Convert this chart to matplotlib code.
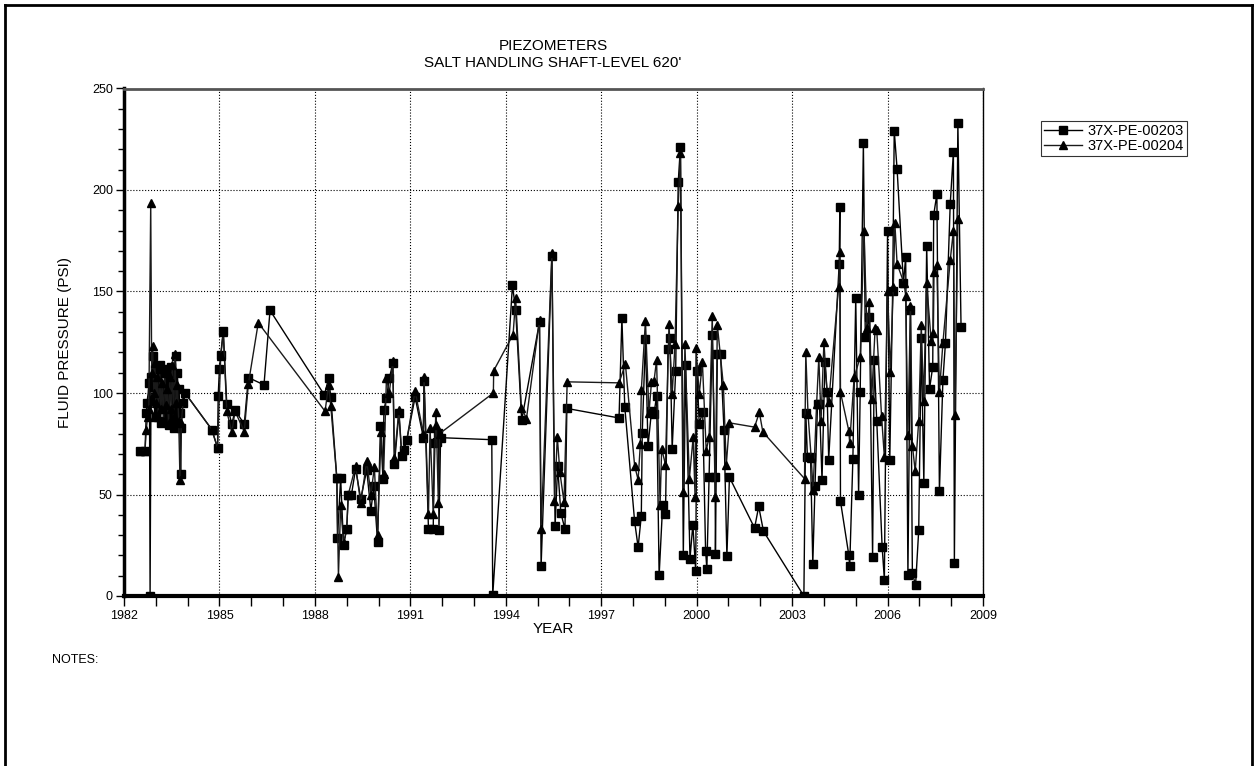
#!/usr/bin/env python3

import matplotlib
matplotlib.use("Agg")
from matplotlib import pyplot as plt
from matplotlib.lines import Line2D
from matplotlib.ticker import MultipleLocator

plt.rcParams['font.family'] = ['Liberation Sans', 'DejaVu Sans']

year_ticks = [1982, 1985, 1988, 1991, 1994, 1997, 2000, 2003, 2006, 2009]

# 37X-PE-00203 (squares)
yr_203 = [1982.50, 1982.66, 1982.70, 1982.72, 1982.80, 1982.82, 1982.85, 1982.88, 1982.92, 1982.95,
          1982.98, 1983.02, 1983.05, 1983.08, 1983.12, 1983.15, 1983.18, 1983.22, 1983.25, 1983.28,
          1983.32, 1983.35, 1983.38, 1983.42, 1983.45, 1983.48, 1983.52, 1983.55, 1983.58, 1983.62,
          1983.65, 1983.68, 1983.70, 1983.72, 1983.75, 1983.78, 1983.80, 1983.85, 1983.92,
          1984.76, 1984.94, 1984.96, 1985.00, 1985.04, 1985.12, 1985.23, 1985.39, 1985.49, 1985.78,
          1985.91, 1986.40, 1986.59,
          1988.30, 1988.43, 1988.50, 1988.69, 1988.71, 1988.81, 1988.90, 1989.00, 1989.05, 1989.15,
          1989.28, 1989.44, 1989.63, 1989.76, 1989.85, 1989.97, 1990.06, 1990.14, 1990.17, 1990.25,
          1990.34, 1990.45, 1990.50, 1990.64, 1990.73, 1990.80, 1990.89, 1991.15, 1991.41, 1991.43,
          1991.57, 1991.72, 1991.75, 1991.85, 1991.88, 1991.90, 1991.95,
          1993.56, 1993.59, 1994.21, 1994.31, 1994.50, 1995.06, 1995.11, 1995.45, 1995.55, 1995.63,
          1995.73, 1995.86, 1995.92,
          1997.56, 1997.65, 1997.74, 1998.05, 1998.16, 1998.26, 1998.29, 1998.39, 1998.47, 1998.58,
          1998.66, 1998.74, 1998.82, 1998.93, 1999.02, 1999.10, 1999.16, 1999.23, 1999.34, 1999.42,
          1999.49, 1999.58, 1999.65, 1999.79, 1999.88, 1999.97, 2000.01, 2000.08, 2000.19, 2000.28,
          2000.32, 2000.39, 2000.49, 2000.58, 2000.59, 2000.65, 2000.75, 2000.86, 2000.95, 2001.03,
          2001.82, 2001.95, 2002.10,
          2003.37, 2003.43, 2003.48, 2003.58, 2003.65, 2003.72, 2003.80, 2003.86, 2003.94, 2004.03,
          2004.10, 2004.15, 2004.48, 2004.50, 2004.52, 2004.78, 2004.81, 2004.91, 2005.00, 2005.09,
          2005.14, 2005.24, 2005.30, 2005.43, 2005.53, 2005.58, 2005.66, 2005.83, 2005.90, 2006.00,
          2006.07, 2006.16, 2006.21, 2006.30, 2006.50, 2006.57, 2006.64, 2006.72, 2006.78, 2006.88,
          2006.98, 2007.06, 2007.14, 2007.23, 2007.32, 2007.42, 2007.45, 2007.55, 2007.63, 2007.74,
          2007.82, 2007.97, 2008.07, 2008.10, 2008.21, 2008.31]
psi_203 = [71.5, 71.5, 90, 95, 105, 0, 108, 103, 118, 96,
           112, 88, 106, 92, 114, 85, 110, 95, 104, 86,
           112, 90, 108, 84, 100, 113, 88, 105, 83, 118,
           92, 110, 84, 102, 90, 60, 83, 95, 100,
           82, 73, 98.5, 112, 118.8, 130.6, 94.6, 84.7, 91.5, 84.7,
           107.6, 104, 140.7,
           99, 107.3, 98, 58, 28.6, 58, 25, 33, 50, 50,
           62.7, 48, 62, 42, 54, 26.6, 83.5, 57.7, 91.5, 97.7,
           107.3, 114.6, 65, 90, 69, 72, 77, 98, 78, 106,
           33, 33.2, 75.4, 75.9, 80.4, 32.4, 78,
           77, 0.3, 153, 141, 86.6, 135, 14.6, 167.5, 34.3, 64,
           41, 32.9, 92.4,
           87.7, 137, 93.3, 36.7, 24, 39.6, 80.4, 126.6, 73.7, 91,
           89.7, 98.7, 10.1, 44.6, 40.5, 121.7, 127.1, 72.5, 110.6, 203.8,
           221.3, 20, 114, 18.4, 35.2, 12.1, 110.7, 84.8, 90.8, 22.4,
           13.4, 58.5, 128.8, 58.5, 20.8, 119.3, 119, 81.6, 19.6, 58.5,
           33.5, 44.1, 31.9,
           0, 90.3, 68.7, 68.7, 15.9, 54.4, 94.6, 94.6, 57, 115.1,
           100.4, 67.2, 163.6, 191.5, 46.7, 20.4, 14.7, 67.5, 146.8, 50,
           100.4, 223.1, 127.5, 137.3, 19.1, 116.5, 86.4, 24.1, 8.1, 179.6,
           66.8, 150.4, 229.2, 210.3, 154, 167.2, 10.1, 140.9, 11.4, 5.2,
           32.6, 127.1, 55.7, 172.6, 102, 113, 187.7, 198, 51.5, 106.4,
           124.7, 193.1, 218.9, 16.4, 233, 132.4]

# 37X-PE-00204 (triangles)
yr_204 = [1982.50, 1982.66, 1982.70, 1982.74, 1982.78, 1982.84, 1982.87, 1982.90, 1982.94, 1982.97,
          1983.00, 1983.04, 1983.08, 1983.12, 1983.16, 1983.20, 1983.24, 1983.28, 1983.32, 1983.36,
          1983.40, 1983.44, 1983.48, 1983.52, 1983.56, 1983.60, 1983.64, 1983.68, 1983.72, 1983.76,
          1983.80, 1983.86, 1983.92,
          1984.76, 1984.94, 1985.04, 1985.12, 1985.23, 1985.39, 1985.49, 1985.78, 1985.91, 1986.22,
          1988.32, 1988.43, 1988.50, 1988.69, 1988.74, 1988.81, 1988.90, 1989.00, 1989.05, 1989.28,
          1989.44, 1989.63, 1989.76, 1989.87, 1989.97, 1990.08, 1990.16, 1990.25, 1990.34, 1990.45,
          1990.50, 1990.64, 1990.73, 1990.80, 1990.89, 1991.15, 1991.41, 1991.43, 1991.57, 1991.62,
          1991.72, 1991.80, 1991.82, 1991.88, 1991.92,
          1993.61, 1993.62, 1994.23, 1994.31, 1994.49, 1994.65, 1995.06, 1995.11, 1995.45, 1995.53,
          1995.62, 1995.70, 1995.83, 1995.93,
          1997.56, 1997.76, 1998.05, 1998.16, 1998.23, 1998.26, 1998.39, 1998.50, 1998.58, 1998.66,
          1998.74, 1998.85, 1998.90, 1999.02, 1999.13, 1999.23, 1999.32, 1999.42, 1999.49, 1999.58,
          1999.63, 1999.77, 1999.89, 1999.95, 1999.98, 2000.08, 2000.18, 2000.30, 2000.39, 2000.49,
          2000.58, 2000.65, 2000.84, 2000.93, 2001.03,
          2001.82, 2001.97, 2002.08,
          2003.39, 2003.43, 2003.50, 2003.60, 2003.66, 2003.77, 2003.84, 2003.91, 2004.00, 2004.10,
          2004.15, 2004.46, 2004.50, 2004.52, 2004.78, 2004.81, 2004.95, 2005.14, 2005.26, 2005.35,
          2005.43, 2005.50, 2005.61, 2005.66, 2005.81, 2005.90, 2006.00, 2006.09, 2006.18, 2006.23,
          2006.30, 2006.52, 2006.57, 2006.64, 2006.72, 2006.78, 2006.87, 2006.98, 2007.06, 2007.13,
          2007.23, 2007.37, 2007.44, 2007.46, 2007.55, 2007.63, 2007.74, 2007.97, 2008.07, 2008.12,
          2008.21]
psi_204 = [71.5, 71.5, 82, 88, 92, 193.8, 110, 123, 100, 115,
           95, 108, 88, 112, 92, 105, 86, 110, 94, 102,
           85, 108, 92, 114, 88, 119.4, 95, 104, 86, 57,
           85, 96, 100,
           82, 73, 118, 130, 91, 80.7, 91, 81, 104.6, 134.6,
           91, 104, 93.5, 58, 9.5, 45, 26, 33, 50, 64,
           45.7, 66.5, 50, 63.5, 30, 81, 60, 107.6, 100, 116,
           68, 91.5, 70, 73, 77, 101, 80, 108, 40.6, 83,
           40.6, 90.7, 84, 45.8, 80,
           100, 111, 128.8, 146.6, 92.8, 87.4, 136, 33.2, 169, 47,
           78.4, 61, 46.3, 105.5,
           105, 114.3, 64.2, 57.2, 75, 101.3, 135.7, 90, 105.4, 106,
           116.3, 45, 72.5, 64.7, 134, 99.3, 124.2, 192.3, 218, 51,
           124.2, 57.8, 78.2, 48.7, 122.2, 99.3, 115.2, 71.6, 78.2, 138.1,
           49, 133.5, 103.7, 64.3, 85.3,
           83.2, 90.5, 80.8,
           57.8, 120.1, 89.7, 68, 52, 94.6, 117.6, 86.4, 125, 100.4,
           95.4, 152.1, 169.3, 100.4, 81.5, 75.4, 107.8, 117.6, 179.6, 132.1,
           144.7, 97, 132.1, 131, 88.9, 68.4, 150.4, 110.3, 152.1, 183.6,
           163.6, 154, 148, 79.5, 143, 74.1, 61.5, 86.4, 133.7, 96,
           154, 125.8, 129.4, 159.5, 163.1, 100.4, 124.7, 165.5, 180, 89.4,
           185.7]

fig = plt.figure(figsize=(12.57, 7.66), dpi=100)
ax = fig.add_axes([124/1257, 170/766, 859/1257, 507.5/766])

ax.plot(yr_203, psi_203, color='black', lw=1.0, marker='s', ms=6, mfc='black', mec='black',
        label='37X-PE-00203', zorder=3)
ax.plot(yr_204, psi_204, color='#1a1a1a', lw=1.0, marker='^', ms=5.5, mfc='black', mec='black',
        label='37X-PE-00204', zorder=3)

ax.set_xlim(1982, 2009)
ax.set_ylim(0, 250)
ax.set_xticks(year_ticks)
ax.set_xticklabels([str(y) for y in year_ticks])
ax.xaxis.set_minor_locator(MultipleLocator(1))
ax.yaxis.set_major_locator(MultipleLocator(50))
ax.yaxis.set_minor_locator(MultipleLocator(10))
ax.grid(True, which='major', color='black', linestyle=':', linewidth=0.8)
ax.set_axisbelow(True)

ax.tick_params(axis='x', which='both', direction='out', length=7, width=1, labelsize=9, pad=3)
ax.tick_params(axis='y', which='major', direction='out', length=6, width=1, labelsize=9, pad=2)
ax.tick_params(axis='y', which='minor', direction='out', length=4, width=1)

ax.spines['bottom'].set_linewidth(3)
ax.spines['left'].set_linewidth(2.5)
ax.spines['top'].set_linewidth(2)
ax.spines['top'].set_color('#555555')
ax.spines['right'].set_linewidth(1)

ax.set_ylabel('FLUID PRESSURE (PSI)', fontsize=11, labelpad=14)
ax.set_xlabel('YEAR', fontsize=11, labelpad=0)

fig.text(0.44, 0.94, 'PIEZOMETERS', ha='center', va='center', fontsize=11)
fig.text(0.44, 0.918, "SALT HANDLING SHAFT-LEVEL 620'", ha='center', va='center', fontsize=11)
fig.text(52/1257, 1 - 660/766, 'NOTES:', ha='left', va='center', fontsize=9)

leg = ax.legend(loc='upper left', bbox_to_anchor=(1041/1257, 1 - 121/766),
                bbox_transform=fig.transFigure, fontsize=10.5, frameon=True, fancybox=False,
                handlelength=2.6, handletextpad=0.4, borderpad=0.2, labelspacing=0.05,
                borderaxespad=0)
leg.get_frame().set_edgecolor('black')
leg.get_frame().set_linewidth(0.8)

# page frame
fig.add_artist(Line2D([5/1257, 5/1257], [0, 1 - 5/766], color='black', lw=2))
fig.add_artist(Line2D([1252/1257, 1252/1257], [0, 1 - 5/766], color='black', lw=2))
fig.add_artist(Line2D([5/1257, 1252/1257], [1 - 5/766, 1 - 5/766], color='black', lw=2))

fig.savefig('out.png', dpi=100)
